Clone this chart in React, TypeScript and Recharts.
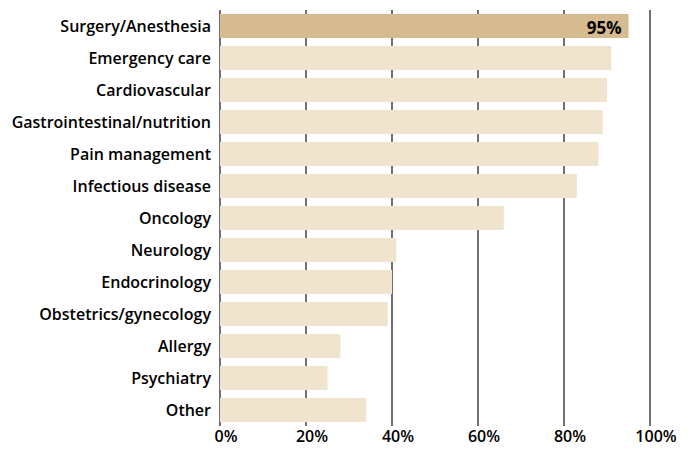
import { Bar, BarChart, CartesianGrid, Cell, LabelList, XAxis, YAxis } from "recharts";

const categories = [
  "Surgery/Anesthesia",
  "Emergency care",
  "Cardiovascular",
  "Gastrointestinal/nutrition",
  "Pain management",
  "Infectious disease",
  "Oncology",
  "Neurology",
  "Endocrinology",
  "Obstetrics/gynecology",
  "Allergy",
  "Psychiatry",
  "Other",
];

const shares = [95, 91, 90, 89, 88, 83, 66, 41, 40, 39, 28, 25, 34];

const xTicks = [0, 20, 40, 60, 80, 100];

const HIGHLIGHT = "#D6BB90";
const BASE = "#F0E4CE";
const FONT = "'Open Sans', Roboto, 'Liberation Sans', Arial, sans-serif";

const data = categories.map((name, i) => ({ name, value: shares[i] }));

function ValueLabel(props: any) {
  const { x, y, width, height, value, index } = props;
  if (index !== 0) return null;
  return (
    <text
      x={Number(x) + Number(width) - 7}
      y={Number(y) + Number(height) / 2 + 1}
      textAnchor="end"
      dominantBaseline="central"
      fill="#000"
      fontSize={17}
      fontWeight={700}
      fontFamily={FONT}
    >
      {value}%
    </text>
  );
}

export default function App() {
  return (
    <BarChart
      width={675}
      height={441}
      data={data}
      layout="vertical"
      barSize={24}
      margin={{ top: 2, right: 33, bottom: 0, left: 0 }}
    >
      <CartesianGrid horizontal={false} stroke="#111" strokeWidth={1.2} />
      <XAxis
        type="number"
        domain={[0, 100]}
        ticks={xTicks}
        tickFormatter={(v) => `${v}%`}
        axisLine={false}
        tickLine={false}
        interval={0}
        height={23}
        dx={6}
        dy={-3}
        tick={{ fill: "#000", fontSize: 16, fontWeight: 600, fontFamily: FONT }}
      />
      <YAxis
        type="category"
        dataKey="name"
        width={212}
        axisLine={false}
        tickLine={false}
        interval={0}
        dx={-1}
        tick={{ fill: "#000", fontSize: 16, fontWeight: 600, fontFamily: FONT }}
      />
      <Bar dataKey="value" isAnimationActive={false}>
        {data.map((d, i) => (
          <Cell key={d.name} fill={i === 0 ? HIGHLIGHT : BASE} />
        ))}
        <LabelList dataKey="value" content={<ValueLabel />} />
      </Bar>
    </BarChart>
  );
}
